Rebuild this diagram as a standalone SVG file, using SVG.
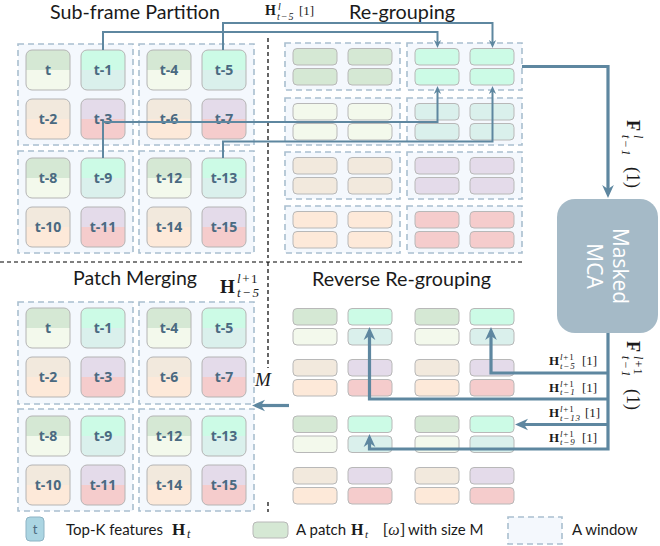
<svg xmlns="http://www.w3.org/2000/svg" width="660" height="546" viewBox="0 0 660 546">
<style>
.win{fill:#f4f8fd;stroke:#a9bfcf;stroke-width:1.6;stroke-dasharray:6 4}
.tile{stroke:#b4b4b4;stroke-width:1}
.tl{font-family:"Open Sans",Lato,sans-serif;font-weight:700;font-size:14px;fill:#4a6a81;text-anchor:middle}
.pt{stroke:#b8b8b8;stroke-width:1}
.title{font-family:Lato,"Liberation Sans",sans-serif;font-size:20px;fill:#1a1a1a}
.lg{font-family:Lato,"Liberation Sans",sans-serif;font-size:15px;fill:#1a1a1a}
.cn{fill:none;stroke:#5e87a0;stroke-width:2;stroke-linejoin:miter}
.ck{stroke-width:3.2}
.dv{fill:none;stroke:#000;stroke-width:1.2;stroke-dasharray:4 3}
.mt{font-family:"Liberation Serif","DejaVu Serif",serif;fill:#1a1a1a}
.b{font-weight:bold}
.i{font-style:italic}
.G1{fill:#d5e8d4}.G2{fill:#f3f9ec}.M1{fill:#ccfbe6}.M2{fill:#daf0ec}
.B1{fill:#f2e9dd}.B2{fill:#fde9d9}.L1{fill:#e4dbea}.L2{fill:#f5cccc}
</style>
<defs>
<linearGradient id="gG" x1="0" y1="0" x2="0" y2="1"><stop offset="0.5" stop-color="#d5e8d4"/><stop offset="0.5" stop-color="#f3f9ec"/></linearGradient>
<linearGradient id="gM" x1="0" y1="0" x2="0" y2="1"><stop offset="0.5" stop-color="#ccfbe6"/><stop offset="0.5" stop-color="#daf0ec"/></linearGradient>
<linearGradient id="gB" x1="0" y1="0" x2="0" y2="1"><stop offset="0.5" stop-color="#f2e9dd"/><stop offset="0.5" stop-color="#fde9d9"/></linearGradient>
<linearGradient id="gL" x1="0" y1="0" x2="0" y2="1"><stop offset="0.5" stop-color="#e4dbea"/><stop offset="0.5" stop-color="#f5cccc"/></linearGradient>
<marker id="ah" viewBox="0 0 10 10" refX="5" refY="5" markerWidth="8" markerHeight="8" markerUnits="userSpaceOnUse" orient="auto"><path d="M0,0.5 L10,5 L0,9.5 L3,5 z" fill="#5e87a0"/></marker>
<marker id="ahk" viewBox="0 0 10 10" refX="5" refY="5" markerWidth="13" markerHeight="13" markerUnits="userSpaceOnUse" orient="auto"><path d="M0,0.5 L10,5 L0,9.5 L3,5 z" fill="#5e87a0"/></marker>
</defs>

<!-- titles -->
<text class="title" x="50" y="19" font-size="19" textLength="170" lengthAdjust="spacingAndGlyphs">Sub-frame Partition</text>
<text class="title" x="349" y="18.5" font-size="19" textLength="106" lengthAdjust="spacingAndGlyphs">Re-grouping</text>
<text class="title" x="73" y="285" textLength="124" lengthAdjust="spacingAndGlyphs">Patch Merging</text>
<text class="title" x="312" y="286" textLength="179" lengthAdjust="spacingAndGlyphs">Reverse Re-grouping</text>

<!-- dividers -->
<g id="dividers">
<path class="dv" d="M268,38 V258"/>
<path class="dv" d="M0,262 H524"/>
<path class="dv" d="M268,262 V368"/>
<path class="dv" d="M268,502 V512"/>
</g>

<!-- Sub-frame partition -->
<g id="sf-windows">
<rect class="win" x="18" y="44" width="115" height="101"/>
<rect class="win" x="139" y="44" width="115" height="101"/>
<rect class="win" x="18" y="151" width="115" height="102"/>
<rect class="win" x="139" y="151" width="115" height="102"/>
</g>
<g id="sf-t0"><rect class="tile" x="26" y="50" width="44" height="40" rx="6" fill="url(#gG)"/><text class="tl" x="48" y="75">t</text></g>
<g id="sf-t1"><rect class="tile" x="81" y="50" width="44" height="40" rx="6" fill="url(#gM)"/><text class="tl" x="103" y="75">t-1</text></g>
<g id="sf-t2"><rect class="tile" x="26" y="99" width="44" height="40" rx="6" fill="url(#gB)"/><text class="tl" x="48" y="124">t-2</text></g>
<g id="sf-t3"><rect class="tile" x="81" y="99" width="44" height="40" rx="6" fill="url(#gL)"/><text class="tl" x="103" y="124">t-3</text></g>
<g id="sf-t4"><rect class="tile" x="147" y="50" width="44" height="40" rx="6" fill="url(#gG)"/><text class="tl" x="169" y="75">t-4</text></g>
<g id="sf-t5"><rect class="tile" x="202" y="50" width="44" height="40" rx="6" fill="url(#gM)"/><text class="tl" x="224" y="75">t-5</text></g>
<g id="sf-t6"><rect class="tile" x="147" y="99" width="44" height="40" rx="6" fill="url(#gB)"/><text class="tl" x="169" y="124">t-6</text></g>
<g id="sf-t7"><rect class="tile" x="202" y="99" width="44" height="40" rx="6" fill="url(#gL)"/><text class="tl" x="224" y="124">t-7</text></g>
<g id="sf-t8"><rect class="tile" x="26" y="158" width="44" height="40" rx="6" fill="url(#gG)"/><text class="tl" x="48" y="183">t-8</text></g>
<g id="sf-t9"><rect class="tile" x="81" y="158" width="44" height="40" rx="6" fill="url(#gM)"/><text class="tl" x="103" y="183">t-9</text></g>
<g id="sf-t10"><rect class="tile" x="26" y="207" width="44" height="40" rx="6" fill="url(#gB)"/><text class="tl" x="48" y="232">t-10</text></g>
<g id="sf-t11"><rect class="tile" x="81" y="207" width="44" height="40" rx="6" fill="url(#gL)"/><text class="tl" x="103" y="232">t-11</text></g>
<g id="sf-t12"><rect class="tile" x="147" y="158" width="44" height="40" rx="6" fill="url(#gG)"/><text class="tl" x="169" y="183">t-12</text></g>
<g id="sf-t13"><rect class="tile" x="202" y="158" width="44" height="40" rx="6" fill="url(#gM)"/><text class="tl" x="224" y="183">t-13</text></g>
<g id="sf-t14"><rect class="tile" x="147" y="207" width="44" height="40" rx="6" fill="url(#gB)"/><text class="tl" x="169" y="232">t-14</text></g>
<g id="sf-t15"><rect class="tile" x="202" y="207" width="44" height="40" rx="6" fill="url(#gL)"/><text class="tl" x="224" y="232">t-15</text></g>

<!-- Re-grouping -->
<g id="rg-w1"><rect class="win" x="285" y="43" width="115" height="47"/>
<rect class="pt G1" x="293" y="48.5" width="44" height="16.5" rx="4"/><rect class="pt G1" x="348" y="48.5" width="44" height="16.5" rx="4"/>
<rect class="pt G1" x="293" y="68.5" width="44" height="16.5" rx="4"/><rect class="pt G1" x="348" y="68.5" width="44" height="16.5" rx="4"/></g>
<g id="rg-w2"><rect class="win" x="407" y="43" width="115" height="47"/>
<rect class="pt M1" x="415" y="48.5" width="44" height="16.5" rx="4"/><rect class="pt M1" x="470" y="48.5" width="44" height="16.5" rx="4"/>
<rect class="pt M1" x="415" y="68.5" width="44" height="16.5" rx="4"/><rect class="pt M1" x="470" y="68.5" width="44" height="16.5" rx="4"/></g>
<g id="rg-w3"><rect class="win" x="285" y="98" width="115" height="47"/>
<rect class="pt G2" x="293" y="103.5" width="44" height="16.5" rx="4"/><rect class="pt G2" x="348" y="103.5" width="44" height="16.5" rx="4"/>
<rect class="pt G2" x="293" y="123.5" width="44" height="16.5" rx="4"/><rect class="pt G2" x="348" y="123.5" width="44" height="16.5" rx="4"/></g>
<g id="rg-w4"><rect class="win" x="407" y="98" width="115" height="47"/>
<rect class="pt M2" x="415" y="103.5" width="44" height="16.5" rx="4"/><rect class="pt M2" x="470" y="103.5" width="44" height="16.5" rx="4"/>
<rect class="pt M2" x="415" y="123.5" width="44" height="16.5" rx="4"/><rect class="pt M2" x="470" y="123.5" width="44" height="16.5" rx="4"/></g>
<g id="rg-w5"><rect class="win" x="285" y="152" width="115" height="47"/>
<rect class="pt B1" x="293" y="157.5" width="44" height="16.5" rx="4"/><rect class="pt B1" x="348" y="157.5" width="44" height="16.5" rx="4"/>
<rect class="pt B1" x="293" y="177.5" width="44" height="16.5" rx="4"/><rect class="pt B1" x="348" y="177.5" width="44" height="16.5" rx="4"/></g>
<g id="rg-w6"><rect class="win" x="407" y="152" width="115" height="47"/>
<rect class="pt L1" x="415" y="157.5" width="44" height="16.5" rx="4"/><rect class="pt L1" x="470" y="157.5" width="44" height="16.5" rx="4"/>
<rect class="pt L1" x="415" y="177.5" width="44" height="16.5" rx="4"/><rect class="pt L1" x="470" y="177.5" width="44" height="16.5" rx="4"/></g>
<g id="rg-w7"><rect class="win" x="285" y="206" width="115" height="47"/>
<rect class="pt B2" x="293" y="211.5" width="44" height="16.5" rx="4"/><rect class="pt B2" x="348" y="211.5" width="44" height="16.5" rx="4"/>
<rect class="pt B2" x="293" y="231.5" width="44" height="16.5" rx="4"/><rect class="pt B2" x="348" y="231.5" width="44" height="16.5" rx="4"/></g>
<g id="rg-w8"><rect class="win" x="407" y="206" width="115" height="47"/>
<rect class="pt L2" x="415" y="211.5" width="44" height="16.5" rx="4"/><rect class="pt L2" x="470" y="211.5" width="44" height="16.5" rx="4"/>
<rect class="pt L2" x="415" y="231.5" width="44" height="16.5" rx="4"/><rect class="pt L2" x="470" y="231.5" width="44" height="16.5" rx="4"/></g>

<!-- Masked MCA -->
<g id="mca">
<rect x="557" y="199" width="101" height="134" rx="18" fill="#a5bac7"/>
<text transform="translate(613,266) rotate(90)" text-anchor="middle" font-family="'Open Sans',Lato,sans-serif" font-size="21" fill="#ffffff">Masked</text>
<text transform="translate(587,266) rotate(90)" text-anchor="middle" font-family="'Open Sans',Lato,sans-serif" font-size="21" fill="#ffffff">MCA</text>
</g>

<!-- Reverse re-grouping patches -->
<g id="rr-patches">
<rect class="pt G1" x="293" y="308.5" width="44" height="16.5" rx="4"/><rect class="pt M1" x="348" y="308.5" width="44" height="16.5" rx="4"/><rect class="pt G1" x="415" y="308.5" width="44" height="16.5" rx="4"/><rect class="pt M1" x="470" y="308.5" width="44" height="16.5" rx="4"/>
<rect class="pt G2" x="293" y="328.5" width="44" height="16.5" rx="4"/><rect class="pt M2" x="348" y="328.5" width="44" height="16.5" rx="4"/><rect class="pt G2" x="415" y="328.5" width="44" height="16.5" rx="4"/><rect class="pt M2" x="470" y="328.5" width="44" height="16.5" rx="4"/>
<rect class="pt B1" x="293" y="359.5" width="44" height="16.5" rx="4"/><rect class="pt L1" x="348" y="359.5" width="44" height="16.5" rx="4"/><rect class="pt B1" x="415" y="359.5" width="44" height="16.5" rx="4"/><rect class="pt L1" x="470" y="359.5" width="44" height="16.5" rx="4"/>
<rect class="pt B2" x="293" y="379.5" width="44" height="16.5" rx="4"/><rect class="pt L2" x="348" y="379.5" width="44" height="16.5" rx="4"/><rect class="pt B2" x="415" y="379.5" width="44" height="16.5" rx="4"/><rect class="pt L2" x="470" y="379.5" width="44" height="16.5" rx="4"/>
<rect class="pt G1" x="293" y="416" width="44" height="16.5" rx="4"/><rect class="pt M1" x="348" y="416" width="44" height="16.5" rx="4"/><rect class="pt G1" x="415" y="416" width="44" height="16.5" rx="4"/><rect class="pt M1" x="470" y="416" width="44" height="16.5" rx="4"/>
<rect class="pt G2" x="293" y="436" width="44" height="16.5" rx="4"/><rect class="pt M2" x="348" y="436" width="44" height="16.5" rx="4"/><rect class="pt G2" x="415" y="436" width="44" height="16.5" rx="4"/><rect class="pt M2" x="470" y="436" width="44" height="16.5" rx="4"/>
<rect class="pt B1" x="293" y="467.5" width="44" height="16.5" rx="4"/><rect class="pt L1" x="348" y="467.5" width="44" height="16.5" rx="4"/><rect class="pt B1" x="415" y="467.5" width="44" height="16.5" rx="4"/><rect class="pt L1" x="470" y="467.5" width="44" height="16.5" rx="4"/>
<rect class="pt B2" x="293" y="487.5" width="44" height="16.5" rx="4"/><rect class="pt L2" x="348" y="487.5" width="44" height="16.5" rx="4"/><rect class="pt B2" x="415" y="487.5" width="44" height="16.5" rx="4"/><rect class="pt L2" x="470" y="487.5" width="44" height="16.5" rx="4"/>
</g>

<!-- Patch merging -->
<g id="pm-windows">
<rect class="win" x="18" y="302" width="115" height="102"/>
<rect class="win" x="139" y="302" width="115" height="102"/>
<rect class="win" x="18" y="409" width="115" height="102"/>
<rect class="win" x="139" y="409" width="115" height="102"/>
</g>
<g id="pm-t0"><rect class="tile" x="26" y="308" width="44" height="40" rx="6" fill="url(#gG)"/><text class="tl" x="48" y="333">t</text></g>
<g id="pm-t1"><rect class="tile" x="81" y="308" width="44" height="40" rx="6" fill="url(#gM)"/><text class="tl" x="103" y="333">t-1</text></g>
<g id="pm-t2"><rect class="tile" x="26" y="357" width="44" height="40" rx="6" fill="url(#gB)"/><text class="tl" x="48" y="382">t-2</text></g>
<g id="pm-t3"><rect class="tile" x="81" y="357" width="44" height="40" rx="6" fill="url(#gL)"/><text class="tl" x="103" y="382">t-3</text></g>
<g id="pm-t4"><rect class="tile" x="147" y="308" width="44" height="40" rx="6" fill="url(#gG)"/><text class="tl" x="169" y="333">t-4</text></g>
<g id="pm-t5"><rect class="tile" x="202" y="308" width="44" height="40" rx="6" fill="url(#gM)"/><text class="tl" x="224" y="333">t-5</text></g>
<g id="pm-t6"><rect class="tile" x="147" y="357" width="44" height="40" rx="6" fill="url(#gB)"/><text class="tl" x="169" y="382">t-6</text></g>
<g id="pm-t7"><rect class="tile" x="202" y="357" width="44" height="40" rx="6" fill="url(#gL)"/><text class="tl" x="224" y="382">t-7</text></g>
<g id="pm-t8"><rect class="tile" x="26" y="416" width="44" height="40" rx="6" fill="url(#gG)"/><text class="tl" x="48" y="441">t-8</text></g>
<g id="pm-t9"><rect class="tile" x="81" y="416" width="44" height="40" rx="6" fill="url(#gM)"/><text class="tl" x="103" y="441">t-9</text></g>
<g id="pm-t10"><rect class="tile" x="26" y="465" width="44" height="40" rx="6" fill="url(#gB)"/><text class="tl" x="48" y="490">t-10</text></g>
<g id="pm-t11"><rect class="tile" x="81" y="465" width="44" height="40" rx="6" fill="url(#gL)"/><text class="tl" x="103" y="490">t-11</text></g>
<g id="pm-t12"><rect class="tile" x="147" y="416" width="44" height="40" rx="6" fill="url(#gG)"/><text class="tl" x="169" y="441">t-12</text></g>
<g id="pm-t13"><rect class="tile" x="202" y="416" width="44" height="40" rx="6" fill="url(#gM)"/><text class="tl" x="224" y="441">t-13</text></g>
<g id="pm-t14"><rect class="tile" x="147" y="465" width="44" height="40" rx="6" fill="url(#gB)"/><text class="tl" x="169" y="490">t-14</text></g>
<g id="pm-t15"><rect class="tile" x="202" y="465" width="44" height="40" rx="6" fill="url(#gL)"/><text class="tl" x="224" y="490">t-15</text></g>

<!-- connectors -->
<g id="connectors">
<path class="cn" d="M103,50 V32 H437.5 V44" marker-end="url(#ah)"/>
<path class="cn" d="M223,50 V23 H492.5 V44" marker-end="url(#ah)"/>
<path class="cn" d="M103,158 V122 H437.5 V90" marker-end="url(#ah)"/>
<path class="cn" d="M223,158 V141.5 H492.5 V90" marker-end="url(#ah)"/>
<path class="cn ck" d="M522,66.5 H608 V191.5" marker-end="url(#ahk)"/>
<path class="cn ck" d="M608,333 V449 H369.5 V440.5" marker-end="url(#ahk)"/>
<path class="cn ck" d="M608,373 H491 V333.5" marker-end="url(#ahk)"/>
<path class="cn ck" d="M608,399 H369.5 V333.5" marker-end="url(#ahk)"/>
<path class="cn ck" d="M608,424.5 H521.5" marker-end="url(#ahk)"/>
<path class="cn ck" d="M289,405.5 H258.5" marker-end="url(#ahk)"/>
</g>

<!-- math labels -->
<g id="labels">
<text class="mt" y="15" font-size="14"><tspan class="b" x="265">H</tspan><tspan class="i" x="278" dy="-5.5" font-size="10">l</tspan><tspan class="i" x="277" dy="10" font-size="10" letter-spacing="1">t−5</tspan><tspan x="299" dy="-4.5" font-size="13">[1]</tspan></text>

<text class="mt" y="365" font-size="13"><tspan class="b" x="549">H</tspan><tspan x="560" dy="-5" font-size="9" letter-spacing="0.8"><tspan class="i">l</tspan>+1</tspan><tspan class="i" x="560" dy="8.5" font-size="9" letter-spacing="0.8">t−5</tspan><tspan x="582" dy="-3.5">[1]</tspan></text>
<text class="mt" y="391.5" font-size="13"><tspan class="b" x="549">H</tspan><tspan x="560" dy="-5" font-size="9" letter-spacing="0.8"><tspan class="i">l</tspan>+1</tspan><tspan class="i" x="560" dy="8.5" font-size="9" letter-spacing="0.8">t−1</tspan><tspan x="582" dy="-3.5">[1]</tspan></text>
<text class="mt" y="417" font-size="13"><tspan class="b" x="549">H</tspan><tspan x="560" dy="-5" font-size="9" letter-spacing="0.8"><tspan class="i">l</tspan>+1</tspan><tspan class="i" x="560" dy="8.5" font-size="9" letter-spacing="0.8">t−13</tspan><tspan x="585" dy="-3.5">[1]</tspan></text>
<text class="mt" y="441.5" font-size="13"><tspan class="b" x="549">H</tspan><tspan x="560" dy="-5" font-size="9" letter-spacing="0.8"><tspan class="i">l</tspan>+1</tspan><tspan class="i" x="560" dy="8.5" font-size="9" letter-spacing="0.8">t−9</tspan><tspan x="582" dy="-3.5">[1]</tspan></text>

<text class="mt" y="293" font-size="19"><tspan class="b" x="220">H</tspan><tspan x="237" dy="-10" font-size="13" letter-spacing="1.5"><tspan class="i">l</tspan>+1</tspan><tspan class="i" x="237" dy="14" font-size="13" letter-spacing="1.5">t−5</tspan></text>

<text class="mt i" x="255" y="386" font-size="19">M</text>

<text class="mt" transform="translate(627,120) rotate(90)" font-size="18"><tspan class="b" x="0">F</tspan><tspan class="i" x="15" dy="-7" font-size="12">l</tspan><tspan class="i" x="15" dy="12" font-size="12" letter-spacing="1.5">t−1</tspan><tspan x="47" dy="-5">(1)</tspan></text>
<text class="mt" transform="translate(627,341) rotate(90)" font-size="18"><tspan class="b" x="0">F</tspan><tspan x="15" dy="-7" font-size="12" letter-spacing="1.2"><tspan class="i">l</tspan>+1</tspan><tspan class="i" x="15" dy="12" font-size="12" letter-spacing="1.5">t−1</tspan><tspan x="48" dy="-5">(1)</tspan></text>
</g>

<!-- legend -->
<g id="legend">
<g id="lg-tile"><rect x="26" y="517" width="18" height="24" rx="4" fill="#abd5e2" stroke="#8db3c4" stroke-width="1"/><text x="35" y="534" text-anchor="middle" font-family="Lato,'Open Sans',sans-serif" font-size="13" fill="#4b6a80">t</text></g>
<text class="lg" x="66" y="535">Top-K features</text>
<text class="mt" y="535" font-size="17"><tspan class="b" x="172">H</tspan><tspan class="i" x="187" dy="3" font-size="12">t</tspan></text>
<g id="lg-patch"><rect class="pt G1" x="253" y="522" width="35" height="16" rx="4"/></g>
<text class="lg" x="296" y="535">A patch</text>
<text class="mt" y="535" font-size="16"><tspan class="b" x="351">H</tspan><tspan class="i" x="365" dy="3" font-size="11">t</tspan><tspan x="383" dy="-3">[</tspan><tspan class="i">ω</tspan><tspan>]</tspan></text>
<text class="lg" x="408" y="535">with size M</text>
<g id="lg-window"><rect class="win" x="508" y="517" width="54" height="27"/></g>
<text class="lg" x="572" y="535">A window</text>
</g>
</svg>
